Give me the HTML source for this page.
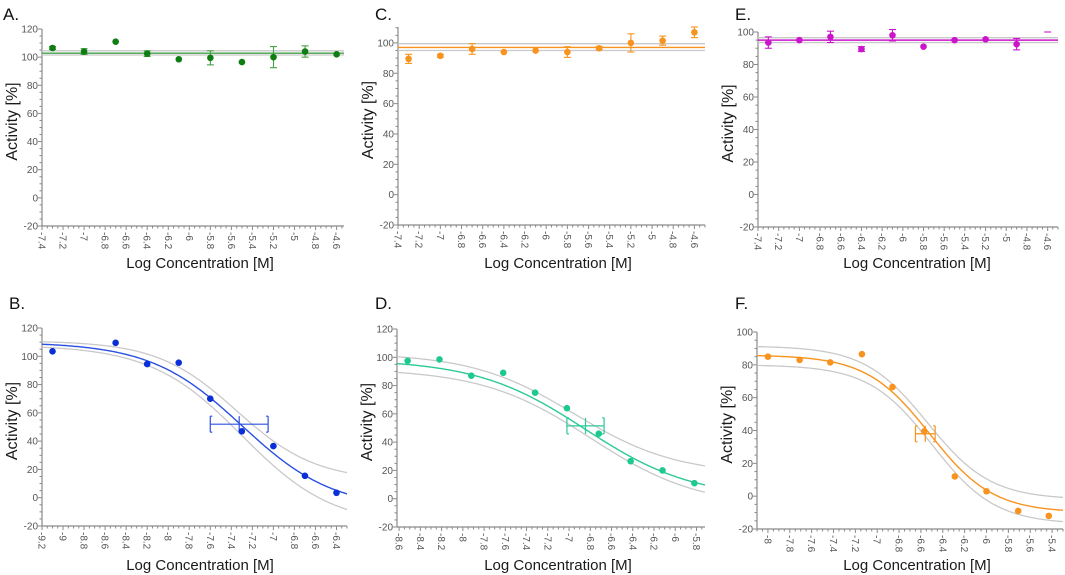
<!DOCTYPE html>
<html><head><meta charset="utf-8">
<style>
html,body{margin:0;padding:0;background:#fff;}
svg{display:block;font-family:"Liberation Sans",Arial,sans-serif;}
</style></head>
<body>
<svg id="chart" width="1065" height="575" viewBox="0 0 1065 575" xmlns="http://www.w3.org/2000/svg"></svg>
<script>
// ---------- Data ----------
// Panel A (flat, green)
const aLogConc = [-7.3,-7.0,-6.7,-6.4,-6.1,-5.8,-5.5,-5.2,-4.9,-4.6];
const aActivity = [106.5,104,111,102.5,98.5,99.5,96.5,100,104,102];
const aError = [1,2,0.5,2,0.5,5,0.5,7.5,4,0.5];
const aFit = [102.8];
const aCI = [101.5,104.5];
// Panel C (flat, orange)
const cLogConc = [-7.3,-7.0,-6.7,-6.4,-6.1,-5.8,-5.5,-5.2,-4.9,-4.6];
const cActivity = [89.5,91.5,96,94,95,94,96.5,100,101.5,107];
const cError = [3,1,3.5,0.5,0.5,3.5,1,6,3,3.5];
const cFit = [97];
const cCI = [95,99.5];
// Panel E (flat, magenta)
const eLogConc = [-7.3,-7.0,-6.7,-6.4,-6.1,-5.8,-5.5,-5.2,-4.9];
const eActivity = [93.5,95,97,89.5,98,91,95,95.5,92.5];
const eError = [3.5,0.5,3.5,1.5,3.5,0.5,0.5,0.5,3.5];
const eFit = [95];
const eCI = [93.5,96.5];
// Panel B (sigmoid, blue)
const bLogConc = [-9.1,-8.5,-8.2,-7.9,-7.6,-7.3,-7.0,-6.7,-6.4];
const bActivity = [103.5,109.5,94.5,95.5,70,47,36.5,15.5,3.5];
const bFitParams = [110,-8,-7.3,1.0];      // top,bottom,logIC50,hill
const bUpperParams = [111,12,-7.35,1.15];
const bLowerParams = [108,-20,-7.3,1.0];
const bIC50Bar = [-7.6,-7.05,52];          // xlo,xhi,y
// Panel D (sigmoid, teal)
const dLogConc = [-8.52,-8.22,-7.92,-7.62,-7.32,-7.02,-6.72,-6.42,-6.12,-5.82];
const dActivity = [97.5,98.5,87,89,75,64,46,26.5,20,11];
const dFitParams = [98.5,0,-6.85,0.85];
const dUpperParams = [103,17,-6.95,0.9];
const dLowerParams = [92,-6,-6.8,0.85];
const dIC50Bar = [-7.02,-6.67,51.5];
// Panel F (sigmoid, orange)
const fLogConc = [-8.0,-7.71,-7.43,-7.14,-6.86,-6.57,-6.29,-6.0,-5.71,-5.43];
const fActivity = [85,83,81.5,86.5,66.5,39.5,12,3,-9,-12];
const fFitParams = [86,-10,-6.52,1.5];
const fUpperParams = [91.5,-2,-6.54,1.5];
const fLowerParams = [80,-17,-6.5,1.5];
const fIC50Bar = [-6.65,-6.47,38];

const NS = "http://www.w3.org/2000/svg";
const svg = document.getElementById("chart");
function el(tag, attrs, parent, text){
  const e = document.createElementNS(NS, tag);
  for (const k in attrs) e.setAttribute(k, attrs[k]);
  if (text !== undefined) e.textContent = text;
  (parent || svg).appendChild(e);
  return e;
}
function fmt(v){ let s = (Math.round(v*10)/10).toString(); return s; }
function sig(p, x){ return p[1] + (p[0]-p[1])/(1+Math.pow(10,(x-p[2])*p[3])); }

function panel(cfg){
  const g = el("g", {});
  
  
  const X = v => cfg.px[0] + (v - cfg.xd[0])/(cfg.xd[1]-cfg.xd[0])*(cfg.px[1]-cfg.px[0]);
  const Y = v => cfg.py[0] + (v - cfg.yd[0])/(cfg.yd[1]-cfg.yd[0])*(cfg.py[1]-cfg.py[0]);
  const L = cfg.px[0], R = cfg.px[1], B = cfg.py[0], T = cfg.py[1];
  const ax = "#8a8a8a";
  const lt = el("text", {x: cfg.letterPos[0], y: cfg.letterPos[1], "font-size": 17, fill: "#111"}, g, cfg.id.toUpperCase() + ".");
  
  
  const yaxis = el("line", {x1:L, y1:B, x2:L, y2:T, stroke:ax, "stroke-width":1.2}, g);
  
  
  const xaxis = el("line", {x1:L, y1:B, x2:R, y2:B, stroke:ax, "stroke-width":1.2}, g);
  
  
  for (let v = cfg.yd[0]; v <= cfg.yd[1] + 0.01; v += 5) {
    const major = Math.abs(v % 20) < 0.01;
    el("line", {x1:L-(major?4:2.5), y1:Y(v), x2:L, y2:Y(v), stroke:ax, "stroke-width":1}, g);
    if (major) {
      const t = el("text", {x:L-4, y:Y(v)+3.5, "font-size":10, fill:"#555", "text-anchor":"end"}, g, fmt(v));
      
      
    }
  }
  const start = Math.ceil(cfg.xd[0]/0.05 - 1e-6);
  const end = Math.floor(cfg.xd[1]/0.05 + 1e-6);
  for (let i = start; i <= end; i++) {
    const v = i*0.05;
    const major = Math.abs(Math.round(v*5) - v*5) < 1e-6;
    el("line", {x1:X(v), y1:B, x2:X(v), y2:B+(major?4:2.5), stroke:ax, "stroke-width":1}, g);
    if (major) {
      const x = X(v)-3.5, y = B+6;
      const t = el("text", {x:x, y:y, "font-size":10, fill:"#555", transform:`rotate(90 ${x} ${y})`}, g, fmt(v));
      
      
    }
  }
  const yt = el("text", {x:0, y:0, "font-size":16, fill:"#1a1a1a", "text-anchor":"middle",
    transform:`translate(${L-25},${(B+T)/2 - 6}) rotate(-90)`}, g, "Activity [%]");
  
  
  const xt = el("text", {x:cfg.xTitle[0], y:cfg.xTitle[1], "font-size":15, fill:"#1a1a1a", "text-anchor":"middle"}, g, "Log Concentration [M]");
  
  

  if (cfg.flat) {
    for (const c of cfg.ci) {
      const l = el("line", {x1:L, y1:Y(c), x2:R, y2:Y(c), stroke:"#c9c9c9", "stroke-width":1.3}, g);
      
      
    }
    const f = el("line", {x1:L, y1:Y(cfg.fit[0]), x2:R, y2:Y(cfg.fit[0]), stroke:cfg.lineColor, "stroke-width":1.4}, g);
    
    
  } else {
    const curve = (p, color, w, name) => {
      let d = "";
      for (let px = L; px <= R; px += 1) {
        const x = cfg.xd[0] + (px-L)/(R-L)*(cfg.xd[1]-cfg.xd[0]);
        d += (d ? "L" : "M") + px.toFixed(1) + "," + Y(sig(p,x)).toFixed(1);
      }
      const pth = el("path", {d:d, fill:"none", stroke:color, "stroke-width":w}, g);
      
      
    };
    curve(cfg.upper, "#c9c9c9", 1.3, "upper-confidence-curve");
    curve(cfg.lower, "#c9c9c9", 1.3, "lower-confidence-curve");
    curve(cfg.fitP, cfg.lineColor, 1.4, "fit-curve");
    const b = cfg.bar, y = Y(b[2]), h = 8;
    const bg = el("g", {stroke:cfg.lineColor, "stroke-width":1.2, fill:"none"}, g);
    
    
    el("line", {x1:X(b[0]), y1:y, x2:X(b[1]), y2:y}, bg);
    el("line", {x1:X(b[0]), y1:y-h, x2:X(b[0]), y2:y+h}, bg);
    el("line", {x1:X(b[1]), y1:y-h, x2:X(b[1]), y2:y+h}, bg);
    el("line", {x1:X(b[0]), y1:y-h, x2:X(b[0])+2, y2:y-h}, bg);
    el("line", {x1:X(b[0]), y1:y+h, x2:X(b[0])+2, y2:y+h}, bg);
    el("line", {x1:X(b[1]), y1:y-h, x2:X(b[1])-2, y2:y-h}, bg);
    el("line", {x1:X(b[1]), y1:y+h, x2:X(b[1])-2, y2:y+h}, bg);
    const mid = (X(b[0])+X(b[1]))/2;
    el("line", {x1:mid, y1:y-h, x2:mid, y2:y+h}, bg);
  }
  for (let i = 0; i < cfg.xs.length; i++) {
    const cx = X(cfg.xs[i]), cy = Y(cfg.ys[i]);
    if (cfg.err) {
      const e = cfg.err[i];
      if (e > 0.8) {
        const eb = el("g", {stroke:cfg.lineColor, "stroke-width":1.1}, g);
        
        
        el("line", {x1:cx, y1:Y(cfg.ys[i]-e), x2:cx, y2:Y(cfg.ys[i]+e)}, eb);
        el("line", {x1:cx-3.5, y1:Y(cfg.ys[i]-e), x2:cx+3.5, y2:Y(cfg.ys[i]-e)}, eb);
        el("line", {x1:cx-3.5, y1:Y(cfg.ys[i]+e), x2:cx+3.5, y2:Y(cfg.ys[i]+e)}, eb);
      }
    }
    const c = el("circle", {cx:cx, cy:cy, r:3.3, fill:cfg.pointColor}, g);
    
    
  }
  if (cfg.extra) {
    const m = el("line", {x1:X(cfg.extra[0])-3.5, y1:Y(cfg.extra[1]), x2:X(cfg.extra[0])+3.5, y2:Y(cfg.extra[1]), stroke:cfg.lineColor, "stroke-width":1.1}, g);
    
    
  }
}

panel({id:"a", flat:true, xd:[-7.4,-4.53], px:[42,344], yd:[-20,120], py:[226,29],
  xs:aLogConc, ys:aActivity, err:aError, fit:aFit, ci:aCI,
  pointColor:"#0e7d12", lineColor:"#43a047", letterPos:[3,20], xTitle:[200,268]});
panel({id:"c", flat:true, xd:[-7.4,-4.5], px:[398,705], yd:[-20,110.5], py:[225,27],
  xs:cLogConc, ys:cActivity, err:cError, fit:cFit, ci:cCI,
  pointColor:"#f7931e", lineColor:"#f7931e", letterPos:[375,20], xTitle:[558,268]});
panel({id:"e", flat:true, xd:[-7.4,-4.5], px:[758,1058], yd:[-20,100], py:[227,32],
  xs:eLogConc, ys:eActivity, err:eError, fit:eFit, ci:eCI, extra:[-4.6,100],
  pointColor:"#cc14cc", lineColor:"#cc14cc", letterPos:[735,20], xTitle:[917,268]});
panel({id:"b", flat:false, xd:[-9.2,-6.3], px:[42,347], yd:[-20,120], py:[526,328],
  xs:bLogConc, ys:bActivity, fitP:bFitParams, upper:bUpperParams, lower:bLowerParams, bar:bIC50Bar,
  pointColor:"#0a2fd6", lineColor:"#2a50e0", letterPos:[9,309], xTitle:[200,570]});
panel({id:"d", flat:false, xd:[-8.62,-5.72], px:[397,705], yd:[-20,120], py:[527,329],
  xs:dLogConc, ys:dActivity, fitP:dFitParams, upper:dUpperParams, lower:dLowerParams, bar:dIC50Bar,
  pointColor:"#1ec98e", lineColor:"#2cc898", letterPos:[375,309], xTitle:[558,570]});
panel({id:"f", flat:false, xd:[-8.1,-5.3], px:[757,1063], yd:[-20,100], py:[529,332],
  xs:fLogConc, ys:fActivity, fitP:fFitParams, upper:fUpperParams, lower:fLowerParams, bar:fIC50Bar,
  pointColor:"#f7931e", lineColor:"#f7931e", letterPos:[735,309], xTitle:[917,570]});
</script>
</body></html>
